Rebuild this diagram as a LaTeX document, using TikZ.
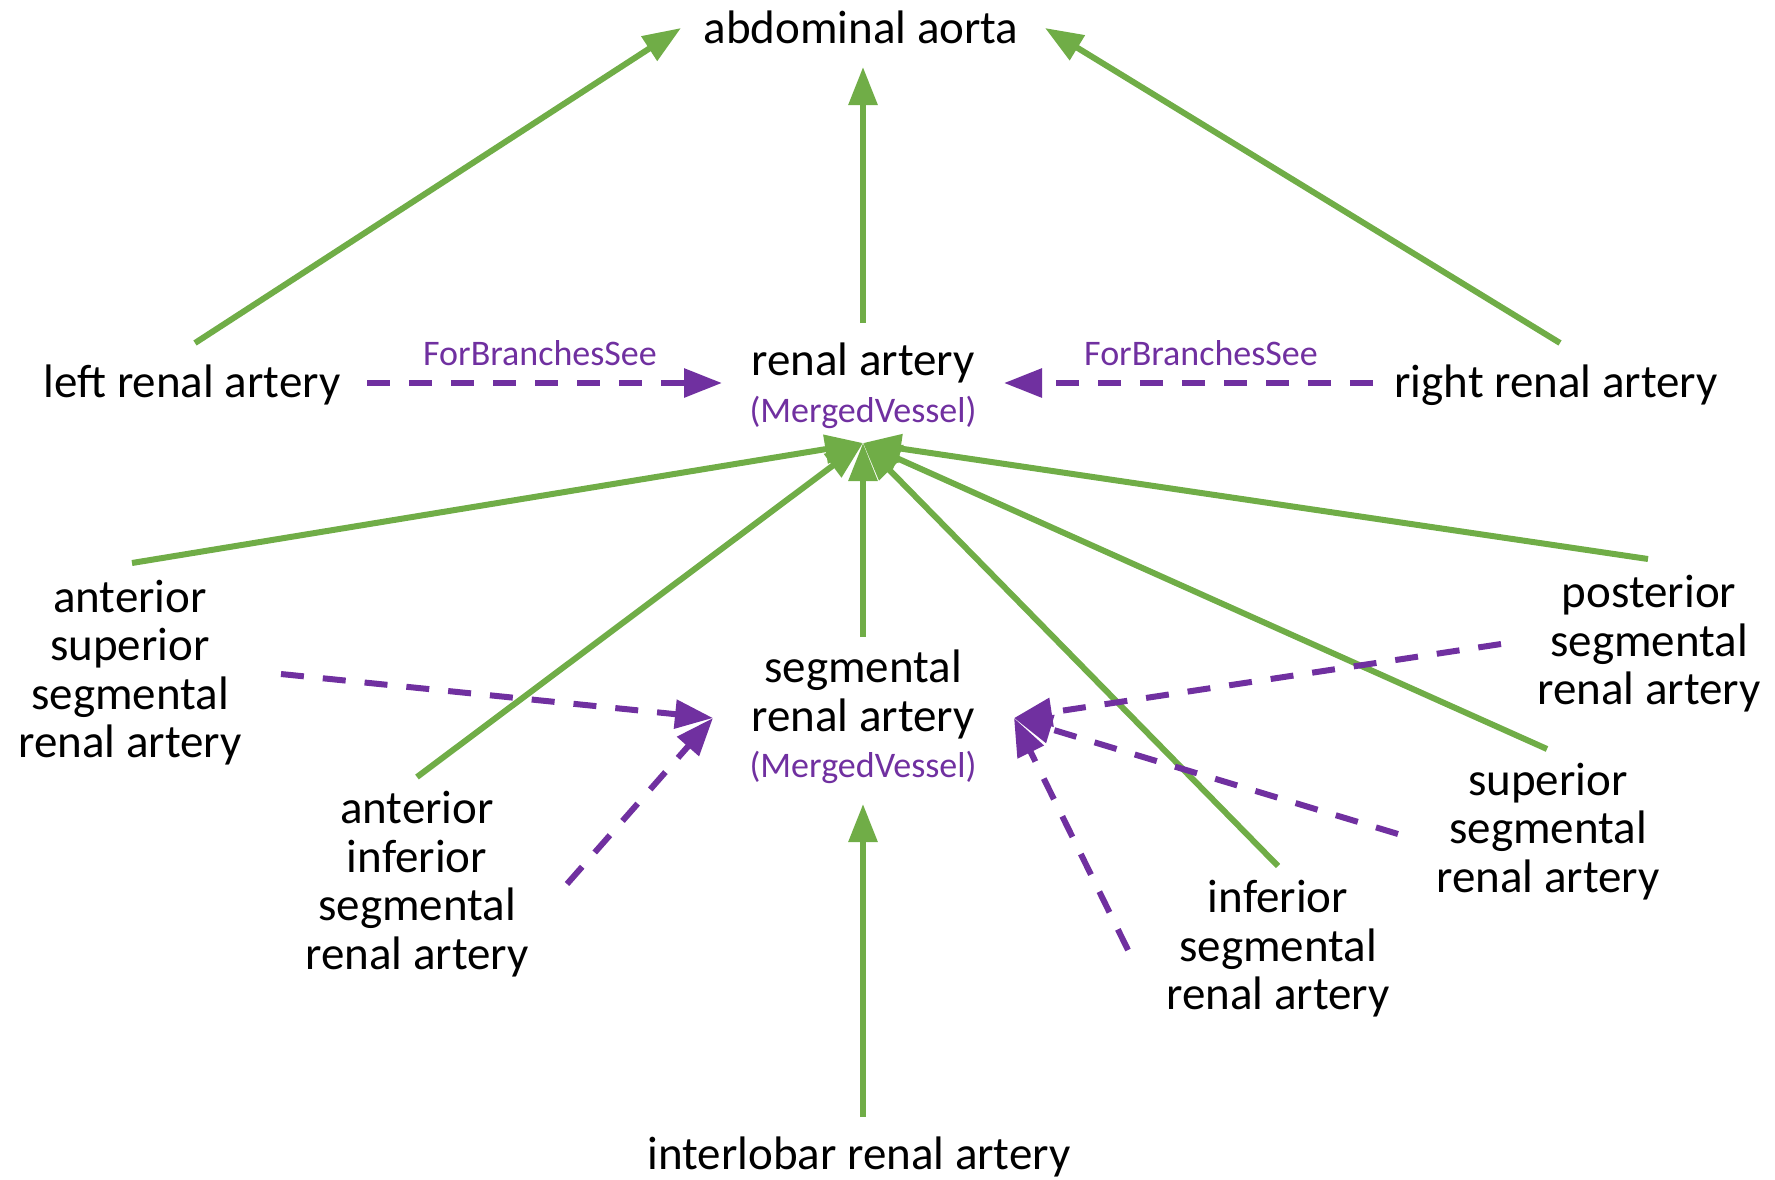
\documentclass[tikz,border=0pt]{standalone}
\usepackage{fontspec}
\setmainfont{Carlito}
\usetikzlibrary{arrows.meta}
\definecolor{vgreen}{HTML}{70AD47}
\definecolor{vpurple}{HTML}{7030A0}
\tikzset{
  vessel/.style={anchor=base, inner sep=0pt, align=center, text=black,
    font=\fontsize{47}{48.5}\selectfont},
  tag/.style={anchor=base, inner sep=0pt, text=vpurple,
    font=\fontsize{36}{40}\selectfont},
  partof/.style={draw=vgreen, line width=6pt,
    -{Triangle[length=38pt,width=28pt]}},
  seealso/.style={draw=vpurple, line width=6pt, dash pattern=on 23pt off 19pt,
    -{Triangle[length=38pt,width=28pt]}},
}
\begin{document}
\begin{tikzpicture}[x=1pt,y=-1pt]
\useasboundingbox (0,0) rectangle (1775,1179);

% vessel names (base anchor = baseline of the last line)
\node[vessel] (aorta) at (861,43) {abdominal aorta};
\node[vessel] (renal) at (863,375) {renal artery};
\node[tag] (renaltype) at (863,422) {(MergedVessel)};
\node[vessel] (left) at (192,397) {left renal artery};
\node[vessel] (right) at (1556,397) {right renal artery};
\node[tag] (seeL) at (540,365) {ForBranchesSee};
\node[tag] (seeR) at (1201,365) {ForBranchesSee};
\node[vessel] (antsup) at (130,757.5) {anterior\\superior\\segmental\\renal artery};
\node[vessel] (antinf) at (417,969) {anterior\\inferior\\segmental\\renal artery};
\node[vessel] (seg) at (863,731) {segmental\\renal artery};
\node[tag] (segtype) at (863,777) {(MergedVessel)};
\node[vessel] (post) at (1649,704.5) {posterior\\segmental\\renal artery};
\node[vessel] (sup) at (1548,892) {superior\\segmental\\renal artery};
\node[vessel] (inf) at (1278,1009.5) {inferior\\segmental\\renal artery};
\node[vessel] (inter) at (859,1169) {interlobar renal artery};

% arrow ends around the names
\coordinate (aorta-w) at (681,28);
\coordinate (aorta-s) at (863,67);
\coordinate (aorta-e) at (1045,28);
\coordinate (renal-w) at (722,383);
\coordinate (renal-e) at (1004,383);
\coordinate (renal-s) at (863,443);
\coordinate (seg-w) at (713,718);
\coordinate (seg-e) at (1014,718);
\coordinate (seg-n) at (863,637);
\coordinate (seg-s) at (863,804);
\coordinate (left-n) at (195,343);
\coordinate (left-e) at (367,383);
\coordinate (right-n) at (1560,343);
\coordinate (right-w) at (1373,383);
\coordinate (renal-n) at (863,323);
\coordinate (antsup-n) at (132,563);
\coordinate (antsup-e) at (281,674);
\coordinate (antinf-n) at (417,777);
\coordinate (antinf-e) at (567,884);
\coordinate (post-n) at (1648,559);
\coordinate (post-w) at (1501,644);
\coordinate (sup-n) at (1547,749);
\coordinate (sup-w) at (1398,834);
\coordinate (inf-n) at (1278,866);
\coordinate (inf-w) at (1128,950);
\coordinate (inter-n) at (863,1117);

% part-of links
\draw[partof] (left-n) -- (aorta-w);
\draw[partof] (renal-n) -- (aorta-s);
\draw[partof] (right-n) -- (aorta-e);
\draw[partof] (antsup-n) -- (renal-s);
\draw[partof] (antinf-n) -- (renal-s);
\draw[partof] (seg-n) -- (renal-s);
\draw[partof] (inf-n) -- (renal-s);
\draw[partof] (sup-n) -- (renal-s);
\draw[partof] (post-n) -- (renal-s);
\draw[partof] (inter-n) -- (seg-s);

% cross references
\draw[seealso] (left-e) -- (renal-w);
\draw[seealso] (right-w) -- (renal-e);
\draw[seealso] (antsup-e) -- (seg-w);
\draw[seealso] (antinf-e) -- (seg-w);
\draw[seealso] (post-w) -- (seg-e);
\draw[seealso] (sup-w) -- (seg-e);
\draw[seealso] (inf-w) -- (seg-e);
\end{tikzpicture}
\end{document}
